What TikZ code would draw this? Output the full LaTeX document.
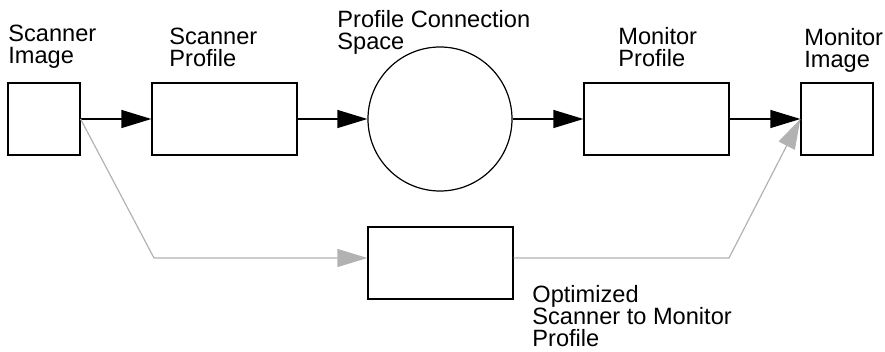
\documentclass[tikz,border=0pt]{standalone}
\usepackage{fontspec}
\setmainfont{Liberation Sans}
\usetikzlibrary{arrows.meta}
\begin{document}
\begin{tikzpicture}[x=0.5pt, y=-0.5pt,
    box/.style={draw, line width=0.6pt, inner sep=0pt, minimum height=36pt},
    lbl/.style={anchor=north west, inner sep=0pt, align=left, font=\fontsize{11.8}{11}\selectfont},
    flow/.style={line width=0.6pt, -{Triangle[length=15pt, width=9pt]}},
    alt/.style={flow, color=black!30}]
    \useasboundingbox (0,0) rectangle (885,352);
    \node[box, minimum width=36pt] (scanimg) at (44,119) {};
    \node[box, minimum width=72.5pt] (scanprof) at (224.5,119) {};
    \node[draw, circle, line width=0.6pt, inner sep=0pt, minimum size=72pt] (pcs) at (440,119) {};
    \node[box, minimum width=72.5pt] (monprof) at (656.5,119) {};
    \node[box, minimum width=36pt] (monimg) at (837,119) {};
    \node[box, minimum width=72.5pt] (opt) at (440.5,263) {};
    \node[lbl] (scanimglbl) at (8,25) {Scanner\\Image};
    \node[lbl] (scanproflbl) at (169,28) {Scanner\\Profile};
    \node[lbl] (pcslbl) at (337,10) {Profile Connection\\Space};
    \node[lbl] (monproflbl) at (618,27) {Monitor\\Profile};
    \node[lbl] (monimglbl) at (804,28) {Monitor\\Image};
    \node[lbl] (optlbl) at (532,285) {Optimized\\Scanner to Monitor\\Profile};
    \coordinate (bendl) at (154,258);
    \coordinate (bendr) at (729,258);
    \draw[flow] (scanimg) -- (scanprof);
    \draw[flow] (scanprof) -- (pcs);
    \draw[flow] (pcs) -- (monprof);
    \draw[flow] (monprof) -- (monimg);
    \draw[alt] (scanimg.east) -- (bendl) -- ([yshift=2.5pt]opt.west);
    \draw[alt] ([yshift=2.5pt]opt.east) -- (bendr) -- (monimg.west);
\end{tikzpicture}
\end{document}
